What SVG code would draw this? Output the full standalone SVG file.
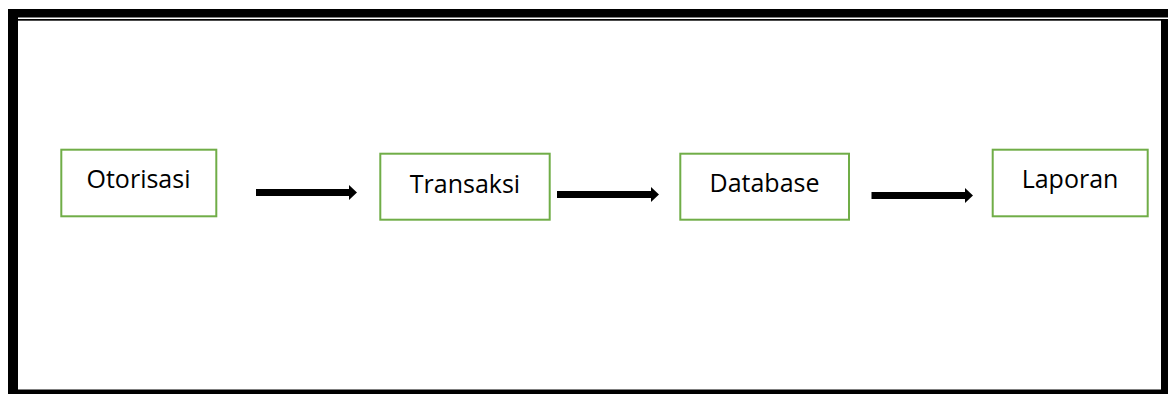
<svg xmlns="http://www.w3.org/2000/svg" width="1168" height="394" viewBox="0 0 1168 394">
  <style>
    .box { fill: #ffffff; stroke: #70AD47; stroke-width: 2; }
    .label { font-family: "Open Sans", "Noto Sans", "Liberation Sans", sans-serif; font-size: 25px; fill: #000000; text-anchor: middle; }
    .frame { fill: #000000; }
    .conn { stroke: #000000; stroke-width: 7; fill: none; }
  </style>
  <defs>
    <marker id="head" markerUnits="userSpaceOnUse" markerWidth="9" markerHeight="16" refX="1" refY="7.5" orient="auto">
      <path d="M0,0 L8,7.5 L0,15 Z" fill="#000000"/>
    </marker>
  </defs>
  <rect x="0" y="0" width="1168" height="394" fill="#ffffff"/>
  <g id="frame">
    <rect class="frame" x="8" y="9" width="1160" height="8.5"/>
    <rect class="frame" x="8" y="9" width="10" height="385"/>
    <rect class="frame" x="17" y="19" width="1144" height="1.7"/>
    <rect class="frame" x="1161" y="19" width="7" height="375"/>
    <rect class="frame" x="8" y="389.5" width="1160" height="4.5"/>
  </g>
  <g id="connectors">
    <line class="conn" x1="256" y1="192.5" x2="350" y2="192.5" marker-end="url(#head)"/>
    <line class="conn" x1="557" y1="194.5" x2="652" y2="194.5" marker-end="url(#head)"/>
    <line class="conn" x1="871.5" y1="195.5" x2="966" y2="195.5" marker-end="url(#head)"/>
  </g>
  <g id="node-otorisasi">
    <rect class="box" x="61.3" y="149.7" width="155" height="66.6"/>
    <text class="label" x="138.5" y="188">Otorisasi</text>
  </g>
  <g id="node-transaksi">
    <rect class="box" x="380.3" y="153.7" width="169.4" height="66"/>
    <text class="label" x="465" y="192.5">Transaksi</text>
  </g>
  <g id="node-database">
    <rect class="box" x="680.3" y="153.7" width="168.7" height="66"/>
    <text class="label" x="764.5" y="191.7">Database</text>
  </g>
  <g id="node-laporan">
    <rect class="box" x="992.7" y="149.7" width="155" height="66.6"/>
    <text class="label" x="1070" y="188">Laporan</text>
  </g>
</svg>
